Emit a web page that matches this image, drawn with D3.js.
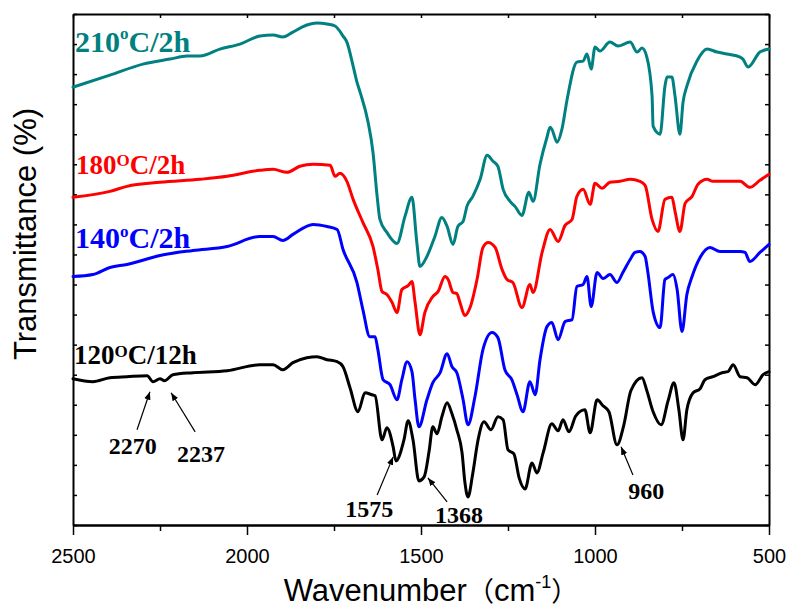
<!DOCTYPE html>
<html><head><meta charset="utf-8">
<script src="https://cdn.jsdelivr.net/npm/d3@7"></script>
<style>body{margin:0;background:#fff}</style>
</head><body>
<svg id="c" width="788" height="608"></svg>
<script>
// ---- data (wavenumber cm^-1, transmittance in arbitrary offset units) ----
const wn210 = [2500,2394,2299,2221,2172,2135,2078,2020,1963,1925,1897,1868,1828,1799,1770,1747,1724,1713,1695,1684,1675,1652,1638,1626,1618,1598,1569,1546,1526,1512,1503,1483,1460,1440,1425,1408,1394,1379,1368,1351,1330,1310,1293,1279,1264,1244,1230,1210,1190,1178,1158,1138,1129,1124,1109,1095,1080,1052,1034,1023,1011,1000,986,957,934,899,879,865,851,836,833,813,799,793,779,770,756,747,736,707,678,649,621,583,575,560,526,500];
const t210 = [437,449,460,465,468,468,475,480,488,489,487,492,499,501,500,498,488,482,458,442,432,402,372,328,305,292,281,308,327,282,258,268,288,307,298,280,298,303,318,328,345,369,363,358,335,323,318,309,332,323,360,387,397,395,382,395,425,462,463,470,455,477,473,482,478,482,472,476,467,428,398,390,438,447,447,428,390,422,438,463,475,472,470,467,465,457,472,475];

const wn180 = [2500,2394,2345,2250,2135,2057,1963,1925,1885,1848,1810,1761,1747,1733,1713,1695,1667,1638,1624,1612,1598,1583,1569,1555,1537,1526,1517,1503,1489,1466,1451,1431,1422,1408,1397,1388,1374,1359,1339,1322,1307,1287,1267,1253,1236,1210,1187,1178,1152,1129,1106,1086,1066,1052,1034,1014,1000,980,957,928,899,871,856,836,819,799,779,770,756,741,721,704,678,661,583,555,526,500];
const t180 = [327,333,338,342,345,348,354,355,352,358,360,359,348,351,343,325,302,278,255,233,230,222,212,235,239,243,222,190,212,228,233,248,245,232,231,222,209,217,245,277,282,277,255,245,242,217,240,232,272,295,283,299,305,328,335,320,341,336,342,343,345,343,339,305,293,325,327,313,293,321,328,340,345,343,343,337,344,350];

const wn140 = [2500,2443,2394,2345,2250,2155,2057,1963,1925,1897,1868,1810,1770,1741,1724,1684,1667,1647,1632,1624,1609,1589,1569,1555,1540,1526,1517,1506,1483,1466,1445,1425,1411,1397,1379,1365,1345,1322,1296,1279,1259,1239,1224,1207,1187,1172,1158,1138,1124,1106,1086,1066,1052,1034,1023,1011,994,977,957,937,920,899,885,871,856,848,833,813,799,790,776,764,750,736,721,698,670,641,583,569,555,526,500];
const t140 = [248,250,257,260,269,274,278,288,288,284,290,300,298,295,275,242,215,188,188,175,145,140,125,145,163,153,125,98,125,142,152,171,158,152,125,100,128,175,192,187,155,145,130,113,143,130,165,198,202,185,203,205,238,240,248,218,252,246,250,242,252,265,272,273,268,252,213,197,245,247,250,235,193,230,248,267,277,273,273,272,263,272,280];

const wn120 = [2500,2443,2394,2345,2287,2270,2250,2237,2213,2155,2057,1963,1925,1897,1868,1828,1799,1770,1741,1724,1704,1681,1661,1641,1632,1612,1598,1580,1572,1549,1537,1523,1506,1491,1477,1466,1454,1440,1425,1411,1397,1382,1374,1365,1351,1336,1319,1299,1279,1264,1250,1233,1218,1201,1181,1167,1149,1124,1106,1092,1075,1055,1029,1014,994,977,960,937,917,897,865,851,833,810,790,773,759,747,736,718,698,684,661,635,618,603,583,563,540,517,500];
const t120 = [146,143,147,148,149,143,146,144,150,152,154,160,160,155,162,167,168,165,163,158,137,113,132,130,129,85,97,78,64,85,104,85,44,48,73,98,91,108,122,111,95,72,43,28,52,85,103,95,108,105,75,71,47,36,62,52,72,101,94,105,93,109,115,92,125,119,113,80,100,134,147,134,113,100,124,142,115,85,115,132,136,145,148,152,153,160,148,147,140,150,153];

const seriesNames = ["210", "180", "140", "120"];
const seriesTimes = ["2h", "2h", "2h", "12h"];
const xMajorTicks = [2500, 2000, 1500, 1000, 500];
const xMinorTicks = [2250, 1750, 1250, 750];
const peakLabels = ["2270", "2237", "1575", "1368", "960"];

// ---- layout ----
const svg = d3.select("#c");
const L = 73, R = 769, T = 14, B = 525;
const x = d3.scaleLinear().domain([2500, 500]).range([L, R]);
const y = d3.scaleLinear().domain([0, 510]).range([B, T]);
const yTicks = d3.range(0, 511, 30);

const sans = "'Liberation Sans', Arial, sans-serif";
const serif = "'Liberation Serif', 'Times New Roman', serif";

function styleAxis(g) {
  g.selectAll("path.domain").attr("stroke", "#000").attr("stroke-width", 2);
  g.selectAll(".tick line").attr("stroke", "#000").attr("stroke-width", 1.5);
}

// bottom major
const gb = svg.append("g").attr("transform", `translate(0,${B})`)
  .call(d3.axisBottom(x).tickValues(xMajorTicks).tickSize(10).tickSizeOuter(0).tickPadding(14).tickFormat(d3.format("d")));
styleAxis(gb);
gb.selectAll(".tick text").attr("font-family", sans).attr("font-size", 20).attr("fill", "#000");
// bottom minor
const gbm = svg.append("g").attr("transform", `translate(0,${B})`)
  .call(d3.axisBottom(x).tickValues(xMinorTicks).tickSize(6).tickSizeOuter(0).tickFormat(""));
styleAxis(gbm);
// top
const gt = svg.append("g").attr("transform", `translate(0,${T})`)
  .call(d3.axisTop(x).tickValues(xMajorTicks.concat(xMinorTicks)).tickSize(-4).tickSizeOuter(0).tickFormat(""));
styleAxis(gt);
// left
const gl = svg.append("g").attr("transform", `translate(${L},0)`)
  .call(d3.axisLeft(y).tickValues(yTicks).tickSize(-4).tickSizeOuter(0).tickFormat(""));
styleAxis(gl);
// right
const gr = svg.append("g").attr("transform", `translate(${R},0)`)
  .call(d3.axisRight(y).tickValues(yTicks).tickSize(-4).tickSizeOuter(0).tickFormat(""));
styleAxis(gr);

// ---- curves ----
const series = [
  { wn: wn210, t: t210, color: "#008080" },
  { wn: wn180, t: t180, color: "#ff0000" },
  { wn: wn140, t: t140, color: "#0000ff" },
  { wn: wn120, t: t120, color: "#000000" }
];
const line = d3.line().x(d => x(d[0])).y(d => y(d[1])).curve(d3.curveMonotoneX);
series.forEach(s => {
  svg.append("path").datum(d3.zip(s.wn, s.t))
    .attr("d", line).attr("fill", "none")
    .attr("stroke", s.color).attr("stroke-width", 3)
    .attr("stroke-linejoin", "round").attr("stroke-linecap", "round");
});

// ---- series labels ----
const labelStyle = [
  { x: 75, y: 52, size: 30, sup: "o", supSize: 17, supDy: -13, color: "#008080" },
  { x: 76, y: 174, size: 27, sup: "O", supSize: 17, supDy: -8, color: "#ff0000" },
  { x: 75, y: 248, size: 30, sup: "o", supSize: 17, supDy: -11, color: "#0000ff" },
  { x: 74, y: 364, size: 27, sup: "O", supSize: 17, supDy: -7, color: "#000000" }
];
seriesNames.forEach((n, i) => {
  const st = labelStyle[i];
  const t = svg.append("text").attr("x", st.x).attr("y", st.y)
    .attr("font-family", serif).attr("font-weight", "bold")
    .attr("font-size", st.size).attr("fill", st.color);
  t.append("tspan").text(n);
  t.append("tspan").attr("font-size", st.supSize).attr("dy", st.supDy).text(st.sup);
  t.append("tspan").attr("dy", -st.supDy).text("C/" + seriesTimes[i]);
});

// ---- peak annotations (data coords: tip, tail, label anchor) ----
const annPos = [
  { tip: [2279, 133], tail: [2316, 95], lab: [2328, 71] },
  { tip: [2218, 132], tail: [2149, 93], lab: [2132, 63] },
  { tip: [1580, 68], tail: [1626, 30], lab: [1649, 8] },
  { tip: [1480, 47], tail: [1425, 23], lab: [1391, 2] },
  { tip: [925, 78], tail: [891, 50], lab: [853, 26] }
];
svg.append("defs").append("marker").attr("id", "ah")
  .attr("viewBox", "0 0 10 10").attr("refX", 10).attr("refY", 5)
  .attr("markerWidth", 8).attr("markerHeight", 8).attr("markerUnits", "userSpaceOnUse")
  .attr("orient", "auto")
  .append("path").attr("d", "M0,1 L10,5 L0,9 Z").attr("fill", "#000");
peakLabels.forEach((lab, i) => {
  const a = annPos[i];
  svg.append("line")
    .attr("x1", x(a.tail[0])).attr("y1", y(a.tail[1]))
    .attr("x2", x(a.tip[0])).attr("y2", y(a.tip[1]))
    .attr("stroke", "#000").attr("stroke-width", 1.2).attr("marker-end", "url(#ah)");
  svg.append("text").attr("x", x(a.lab[0])).attr("y", y(a.lab[1]))
    .attr("text-anchor", "middle").attr("font-family", serif).attr("font-weight", "bold")
    .attr("font-size", 24).attr("fill", "#000").text(lab);
});

// ---- axis titles ----
const xt = svg.append("text").attr("x", (L + R) / 2 + 10).attr("y", 601)
  .attr("text-anchor", "middle").attr("font-family", sans).attr("font-size", 31).attr("fill", "#000");
xt.append("tspan").text("Wavenumber");
xt.append("tspan").attr("font-family", "'Noto Sans CJK SC', sans-serif").attr("font-size", 27).text("（");
xt.append("tspan").text("cm");
xt.append("tspan").attr("font-size", 18).attr("dy", -13).text("-1");
xt.append("tspan").attr("dy", 13).attr("font-family", "'Noto Sans CJK SC', sans-serif").attr("font-size", 27).text("）");

svg.append("text").attr("transform", "translate(36,234) rotate(-90)")
  .attr("text-anchor", "middle").attr("font-family", sans).attr("font-size", 31).attr("fill", "#000")
  .text("Transmittance (%)");
</script>
</body></html>
